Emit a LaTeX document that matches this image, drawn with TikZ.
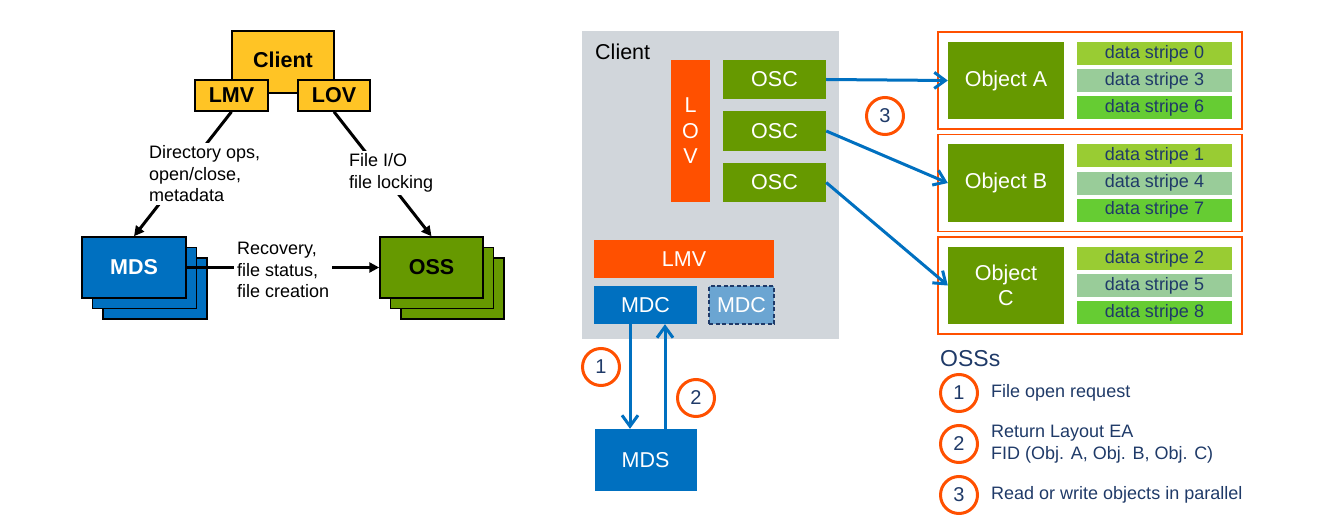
\documentclass[tikz,border=0pt]{standalone}
\usepackage{fontspec}
\setmainfont{Liberation Sans}
\usetikzlibrary{arrows.meta,shadows}
\definecolor{cyellow}{HTML}{FFC425}
\definecolor{mdsblue}{HTML}{0070C0}
\definecolor{ossgreen}{HTML}{669900}
\definecolor{lorange}{HTML}{FF5000}
\definecolor{cgrey}{HTML}{D1D6DB}
\definecolor{mdclight}{HTML}{6BA5D2}
\definecolor{navy}{HTML}{1F3A68}
\definecolor{stripeA}{HTML}{99CC33}
\definecolor{stripeB}{HTML}{99CC99}
\definecolor{stripeC}{HTML}{66CC33}

\begin{document}
\begin{tikzpicture}[x=1pt, y=-1pt, font=\fontsize{18}{21.5}\selectfont,
  big/.style={font=\fontsize{21.5}{25.5}\selectfont},
  ybox/.style={draw=black, line width=1.5pt, fill=cyellow, inner sep=0pt, font=\fontsize{21.5}{25.5}\selectfont\bfseries},
  stack/.style={draw=black, line width=1.5pt, inner sep=0pt, minimum width=104pt, minimum height=61pt,
    font=\fontsize{21.5}{25.5}\selectfont\bfseries,
    double copy shadow={shadow xshift=10.5pt, shadow yshift=-10.5pt, fill=#1, draw=black, line width=1.5pt}, fill=#1},
  txt/.style={fill=white, align=left, anchor=west, inner sep=3pt},
  link/.style={line width=3pt, -{Triangle[length=10pt,width=10pt]}},
  flatbox/.style={fill=#1, text=white, inner sep=0pt, big},
  flow/.style={draw=mdsblue, line width=3pt, -{Straight Barb[length=11pt,width=16pt]}},
  numcirc/.style={circle, draw=lorange, line width=3pt, minimum size=37pt, inner sep=0pt, text=navy, font=\fontsize{20}{24}\selectfont}]
	\useasboundingbox (0,0) rectangle (1328,532);
	% left: overview
	\node[ybox, minimum width=102pt, minimum height=62pt, text depth=5pt] (client) at (283,62) {Client};
	\node[ybox, minimum width=73pt, minimum height=31pt] (lmv) at (231.5,95.5) {LMV};
	\node[ybox, minimum width=72pt, minimum height=31pt] (lov) at (334,95.5) {LOV};
	\node[stack=mdsblue, text=white] (mds) at (134,267.5) {MDS};
	\node[stack=ossgreen, text=black, minimum width=103pt] (oss) at (431.5,267.5) {OSS};
	\draw[link] (lmv.south) -- (mds.north);
	\draw[link] (lov.south) -- (oss.north);
	\draw[link] (mds.east) -- (oss.west);
	\node[txt] (dirops) at (146,174) {Directory ops,\\open/close,\\metadata};
	\node[txt] (fileio) at (346,173) {File I/O\\file locking};
	\node[txt] (recov) at (234,270) {Recovery,\\file status,\\file creation};
	% right: client, objects
	\node[fill=cgrey, minimum width=257pt, minimum height=308pt, inner sep=0pt] (clientarea) at (710.5,185) {};
	\node[big, anchor=west, inner sep=0pt] (clientlbl) at (595,52) {Client};
	\node[flatbox=lorange, minimum width=39pt, minimum height=142pt, align=center] (lovbar) at (690.5,131) {L\\O\\V};
	\foreach \y [count=\i] in {79.5,131,182.5}
	  \node[flatbox=ossgreen, minimum width=103pt, minimum height=39.5pt] (osc\i) at (774.5,\y) {OSC};
	\node[flatbox=lorange, minimum width=180pt, minimum height=38pt] (lmvbar) at (684,259) {LMV};
	\node[flatbox=mdsblue, minimum width=103pt, minimum height=38pt] (mdc) at (645.5,305) {MDC};
	\node[flatbox=mdclight, draw=navy, line width=1.5pt, dash pattern=on 4pt off 2.5pt, minimum width=65pt, minimum height=38pt] (mdcb) at (741.5,305) {MDC};
	\node[flatbox=mdsblue, minimum width=102pt, minimum height=62pt] (mdsb) at (645.5,460) {MDS};
	\foreach \n/\t [count=\i from 0] in {A/Object A, B/Object B, C/Object\\C} {
	  \node[draw=lorange, line width=1.5pt, minimum width=304pt, minimum height=97pt, inner sep=0pt] (box\n) at (1090,{80.5+102.5*\i}) {};
	  \node[flatbox=ossgreen, align=center, minimum width=116pt, minimum height=77pt] (obj\n) at (1006,{80.5+102.5*\i}) {\t};
	  \foreach \c [count=\k from 0] in {stripeA,stripeB,stripeC} {
	    \pgfmathtruncatemacro\s{\i+3*\k}
	    \node[fill=\c, text=navy, minimum width=155pt, minimum height=23pt, inner sep=0pt] (st\n\k) at (1154.5,{80.5+102.5*\i+27*(\k-1)}) {data stripe \s};
	  }
	}
	\draw[flow] (osc1.east) -- (objA.west);
	\draw[flow] (osc2.east) -- (objB.west);
	\draw[flow] (osc3.east) -- (objC.west);
	\draw[flow] ([xshift=-15.5pt]mdc.south) -- ([xshift=-15.5pt]mdsb.north);
	\draw[flow] ([xshift=19.5pt]mdsb.north) -- ([xshift=19.5pt]mdc.south);
	\node[numcirc] (c1) at (601,367) {1};
	\node[numcirc] (c2) at (696,398) {2};
	\node[numcirc] (c3) at (885,116) {3};
	% legend
	\node[anchor=west, inner sep=0pt, text=navy, font=\fontsize{23}{27}\selectfont] (osss) at (940,359) {OSSs};
	\foreach \y [count=\i] in {393,444,495}
	  \node[numcirc] (leg\i) at (959,\y) {\i};
	\node[anchor=west, inner sep=0pt, text=navy] (leg1txt) at (991,393) {File open request};
	\node[anchor=west, inner sep=0pt, text=navy, align=left] (leg2txt) at (991,444) {Return Layout EA\\FID (Obj. A, Obj. B, Obj. C)};
	\node[anchor=west, inner sep=0pt, text=navy] (leg3txt) at (991,495) {Read or write objects in parallel};
\end{tikzpicture}
\end{document}
